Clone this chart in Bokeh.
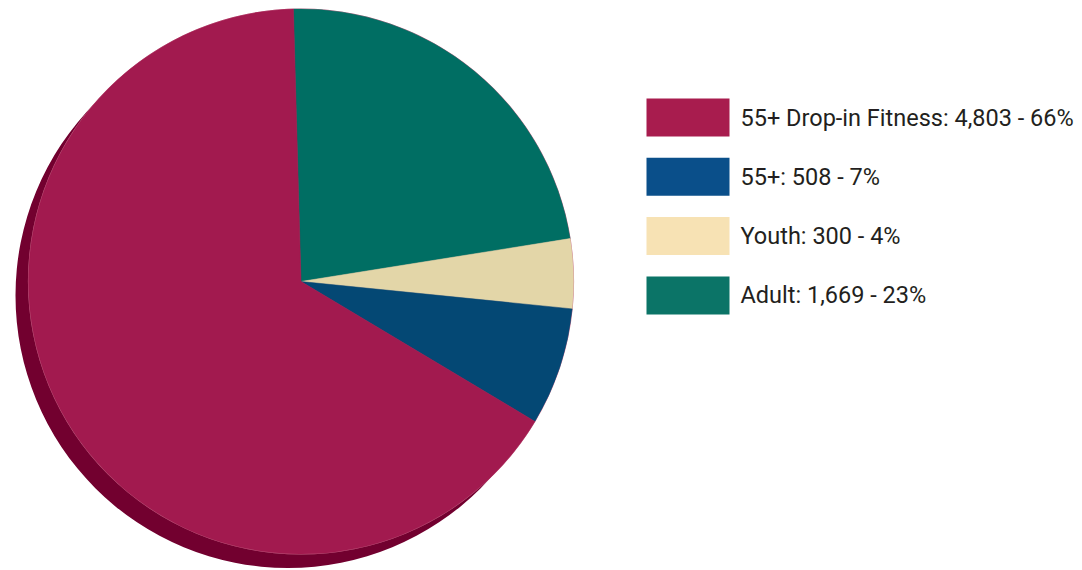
import math
from bokeh.plotting import figure
from bokeh.models import ColumnDataSource, Range1d
from bokeh.core.properties import value
from bokeh.embed import file_html
from bokeh.resources import INLINE

# ---- data ----
categories = ["55+ Drop-in Fitness", "55+", "Youth", "Adult"]
counts = [4803, 508, 300, 1669]
percents = [66, 7, 4, 23]
pie_colors = ["#A21A4F", "#044874", "#E3D6A8", "#006E63"]
legend_colors = ["#A81C4E", "#0A4F8A", "#F7E2B4", "#0B7467"]
shadow_color = "#72002F"

W, H = 1082, 570
p = figure(width=W, height=H, output_backend="svg", toolbar_location=None,
           x_range=Range1d(0, W), y_range=Range1d(0, H), min_border=0)
p.axis.visible = False
p.grid.visible = False
p.outline_line_color = None
p.background_fill_color = "white"

cx, cy, r = 300.5, 570 - 281, 272.5
total = sum(counts)

# pie drawn clockwise starting near the top; Adult first, then Youth, 55+, Drop-in
order = [3, 2, 1, 0]
start = math.radians(91.6)
starts, ends, cols = [], [], []
a = start
for i in order:
    sweep = 2 * math.pi * counts[i] / total
    starts.append(a)
    ends.append(a - sweep)
    cols.append(pie_colors[i])
    a -= sweep

# shadow
p.wedge(x=[cx - 13], y=[cy - 14], radius=r, start_angle=[0], end_angle=[2 * math.pi],
        fill_color=shadow_color, line_color=None)
p.circle(x=[cx], y=[cy], radius=r + 0.6, fill_color="#C8708F", line_color=None)

src = ColumnDataSource(dict(x=[cx] * 4, y=[cy] * 4, s=starts, e=ends, c=cols))
p.wedge(x="x", y="y", radius=r, start_angle="s", end_angle="e", direction="clock",
        fill_color="c", line_color="c", line_width=0.5, source=src)

# legend
labels = [f"{categories[i]}: {counts[i]:,} - {percents[i]}%" for i in range(4)]
ly = [570 - (117 + 59.3 * i) for i in range(4)]
lsrc = ColumnDataSource(dict(x=[687.5] * 4, y=ly, c=legend_colors, t=labels,
                             tx=[740] * 4))
p.rect(x="x", y="y", width=83, height=38, fill_color="c", line_color=None, source=lsrc)
p.text(x="tx", y="y", text="t", text_font=value("Roboto"),
       text_font_size="23.5px", text_color="#231F20", text_baseline="middle",
       text_align="left", source=lsrc)

open("out.html", "w").write(file_html(p, INLINE))
